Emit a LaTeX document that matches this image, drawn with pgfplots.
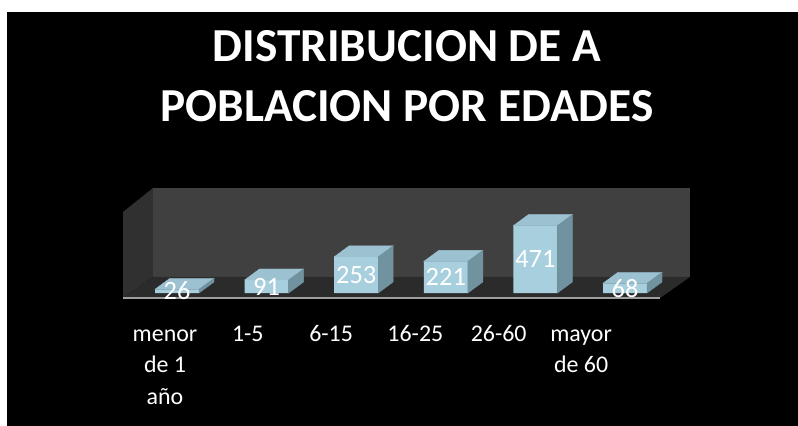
\documentclass[border=0pt]{standalone}
\usepackage{fontspec}
\setmainfont{Carlito}
\usepackage{pgfplots}
\usepackage{pgfplotstable}
\pgfplotsset{compat=1.18}
\definecolor{wallback}{HTML}{404040}
\definecolor{wallside}{HTML}{303030}
\definecolor{floorc}{HTML}{2B2B2B}
\definecolor{barfront}{HTML}{A8CFDE}
\definecolor{bartop}{HTML}{9CC2D1}
\definecolor{barside}{HTML}{7193A0}
\pgfdeclareplotmark{void}{}

\pgfplotstableread{
i n
0 26
1 91
2 253
3 221
4 471
5 68
}\edades

\begin{document}
\begin{tikzpicture}
\path[use as bounding box] (0,0) rectangle (798bp,426bp);
\fill[white] (0,0) rectangle (798bp,426bp);
\fill[black] (7bp,0) rectangle (798bp,414bp);
% title
\node[anchor=base, text=white, inner sep=0pt, font=\fontsize{47.5}{57}\selectfont\bfseries] at (407bp,364.3bp) {DISTRIBUCION DE A};
\node[anchor=base, text=white, inner sep=0pt, font=\fontsize{47.5}{57}\selectfont\bfseries] at (407bp,304.3bp) {POBLACION POR EDADES};
% walls and floor
\fill[wallside] (123bp,214bp) -- (153bp,238bp) -- (153bp,149bp) -- (123bp,128bp) -- cycle;
\fill[wallback] (153bp,149bp) rectangle (690bp,238bp);
\fill[floorc] (123bp,128bp) -- (153bp,149bp) -- (690bp,149bp) -- (660bp,128bp) -- cycle;
\draw[line width=2bp, black!38] (123bp,128bp) -- (660bp,128bp);

\begin{axis}[
  at={(123.24bp,133bp)}, anchor=south west,
  x=89.6bp, y=0.143bp,
  xmin=-0.6, xmax=5.6, ymin=0, ymax=560,
  clip=false,
  axis line style={draw=none}, tick style={draw=none},
  ytick=\empty,
  xtick={-0.134,0.79,1.72,2.66,3.59,4.51},
  xticklabels={{\strut menor\\de 1\\año},\strut 1-5,\strut 6-15,\strut 16-25,\strut 26-60,{\strut mayor\\de 60}},
  xticklabel style={align=center, anchor=north, inner sep=0pt, yshift=-25.6bp, text=white, font=\fontsize{24}{32}\selectfont},
  /pgf/number format/assume math mode=true,
]
% front faces
\addplot[ybar, bar width=44bp, fill=barfront, draw=none] table[x=i, y=n] {\edades};
% top and side faces
\addplot[scatter, only marks, mark=void,
  visualization depends on={rawy \as \nval},
  scatter/@pre marker code/.code={%
    \pgfmathsetmacro\hh{\nval*0.143}%
    \fill[bartop] (-22bp,0bp) -- (22bp,0bp) -- (37bp,11bp) -- (-7bp,11bp) -- cycle;
    \fill[barside] (22bp,0bp) -- (37bp,11bp) -- (37bp,{(11-\hh)*1bp}) -- (22bp,{-\hh*1bp}) -- cycle;
  },
  scatter/@post marker code/.code={}] table[x=i, y=n] {\edades};
% value labels
\addplot[only marks, mark=void, point meta=explicit, nodes near coords,
  nodes near coords style={anchor=center, text=white, font=\fontsize{26.5}{30}\selectfont}]
  table[x=i, y expr=\thisrow{n}/2, meta=n] {\edades};
\end{axis}
\end{tikzpicture}
\end{document}
